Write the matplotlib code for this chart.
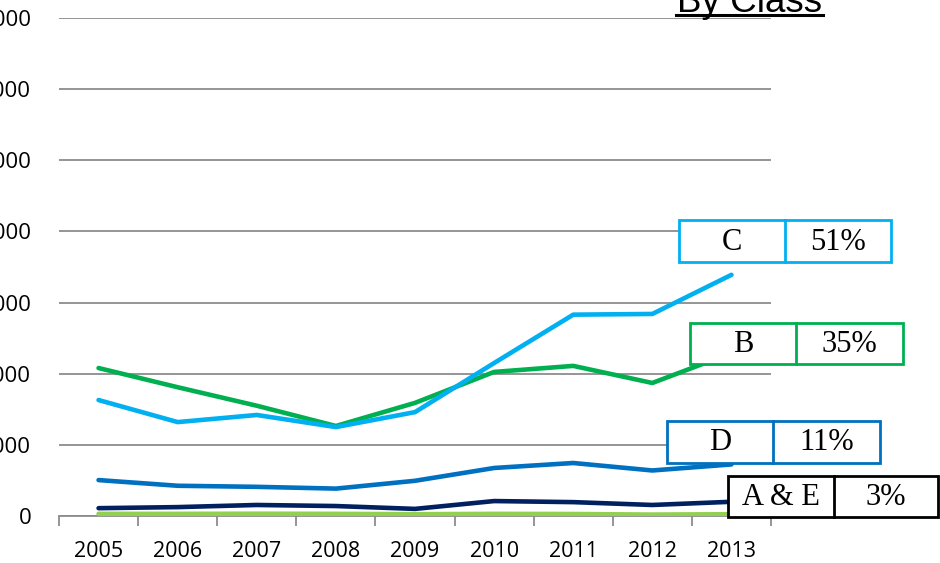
import matplotlib
matplotlib.use("Agg")
import matplotlib.pyplot as plt
from matplotlib.patches import Rectangle

years = ["2005", "2006", "2007", "2008", "2009", "2010", "2011", "2012", "2013"]
class_c = [1630, 1320, 1420, 1250, 1460, 2150, 2830, 2840, 3390]
class_b = [2080, 1810, 1550, 1265, 1590, 2025, 2110, 1870, 2290]
class_d = [505, 425, 410, 385, 495, 675, 745, 640, 725]
class_ae = [110, 125, 155, 140, 100, 210, 195, 155, 200]
class_other = [30, 30, 32, 30, 25, 30, 28, 20, 25]
yticks = [0, 1000, 2000, 3000, 4000, 5000, 6000, 7000]
box_labels = ["C", "B", "D", "A & E"]
box_pcts = ["51%", "35%", "11%", "3%"]

W, H = 940, 563
fig = plt.figure(figsize=(W / 100, H / 100), dpi=100)
ax = fig.add_axes([59 / W, 47 / H, (771 - 59) / W, (516 - 18) / H])

x = list(range(len(years)))
lw = 3.3
ax.plot(x, class_other, color="#92D050", lw=lw, solid_capstyle="round", zorder=3)
ax.plot(x, class_ae, color="#002060", lw=lw, solid_capstyle="round", zorder=4)
ax.plot(x, class_d, color="#0070C0", lw=lw, solid_capstyle="round", zorder=4)
ax.plot(x, class_b, color="#00B050", lw=lw, solid_capstyle="round", zorder=4)
ax.plot(x, class_c, color="#00B0F0", lw=lw, solid_capstyle="round", zorder=5)

ax.set_xlim(-0.5, len(years) - 0.5)
ax.set_ylim(0, 7000)
ax.set_yticks(yticks)
ax.set_yticklabels([str(v) for v in yticks], fontsize=16, family="Open Sans")
ax.tick_params(axis="y", length=0, pad=20)
ax.yaxis.grid(True, color="#8C8C8C", lw=1.3)
ax.set_axisbelow(True)

ax.set_xticks(x)
ax.set_xticklabels(years, fontsize=15.5, family="Open Sans")
ax.tick_params(axis="x", which="major", length=0, pad=18)
ax.set_xticks([i - 0.5 for i in range(len(years) + 1)], minor=True)
ax.tick_params(axis="x", which="minor", length=7, width=1.3, color="#8C8C8C")

for s in ["top", "right", "left"]:
    ax.spines[s].set_visible(False)
ax.spines["bottom"].set_color("#8C8C8C")
ax.spines["bottom"].set_linewidth(1.3)

# overlay in pixel coordinates for boxes and title
ov = fig.add_axes([0, 0, 1, 1])
ov.set_xlim(0, W)
ov.set_ylim(H, 0)
ov.axis("off")
ov.set_zorder(10)

boxes = [
    (679, 220, 785, 891, 262, "#00B0F0"),
    (690, 323, 796, 903, 364, "#00B050"),
    (667, 421, 773, 880, 463, "#0070C0"),
    (728, 476, 834, 938, 517, "#000000"),
]
for (x0, y0, xm, x1, y1, col), lab, pct in zip(boxes, box_labels, box_pcts):
    ov.add_patch(Rectangle((x0, y0), x1 - x0, y1 - y0, facecolor="white",
                           edgecolor=col, lw=2.0, zorder=1))
    ov.plot([xm, xm], [y0, y1], color=col, lw=2.0, zorder=2)
    ov.text((x0 + xm) / 2, (y0 + y1) / 2 + 1, lab, ha="center", va="center",
            fontsize=22, family="Liberation Serif", zorder=3)
    ov.text((xm + x1) / 2, (y0 + y1) / 2 + 1, pct, ha="center", va="center",
            fontsize=22, family="Liberation Serif", zorder=3)

ov.text(749.5, 12, "By Class", ha="center", va="baseline", fontsize=26.5,
        family="Liberation Sans", zorder=3)
ov.plot([676, 823], [15, 15], color="black", lw=2.2, zorder=3)

fig.savefig("out.png", dpi=100)
